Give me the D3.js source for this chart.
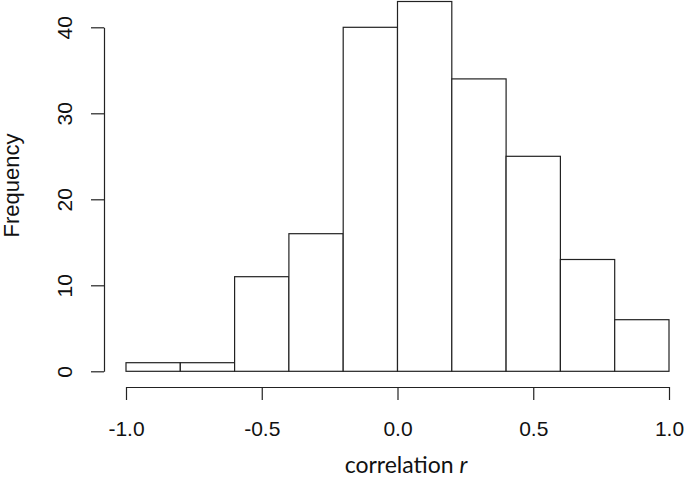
<!DOCTYPE html>
<html>
    <head>
        <meta charset="utf-8">
        <script type="text/javascript" src="https://cdn.jsdelivr.net/npm/d3@7"></script>
        <style>
        body {
            margin: 0;
            background: white;
        }
        .axis path,
        .axis line {
            fill: none;
            stroke: #222;
            stroke-width: 1.2px;
        }
        .axis text {
            font-family: "Liberation Sans", Arial, sans-serif;
            font-size: 21px;
            fill: #111;
        }
        .bar {
            fill: white;
            stroke: #222;
            stroke-width: 1.2px;
        }
        </style>
    </head>
    <body>
        <script type="text/javascript">
        // histogram bins (left edges) and counts
        var binStarts = [-1.0, -0.8, -0.6, -0.4, -0.2, 0.0, 0.2, 0.4, 0.6, 0.8];
        var binWidth = 0.2;
        var counts = [1, 1, 11, 16, 40, 43, 34, 25, 13, 6];
        var xTicks = [-1.0, -0.5, 0.0, 0.5, 1.0];
        var yTicks = [0, 10, 20, 30, 40];

        var w = 685,
            h = 479;

        var xScale = d3.scaleLinear()
                        .domain([-1, 1])
                        .range([126, 669]);

        var yScale = d3.scaleLinear()
                        .domain([0, 40])
                        .range([371.3, 27.3]);

        var svg = d3.select("body")
                    .append("svg")
                    .attr("width", w)
                    .attr("height", h);

        // draw the bars
        svg.selectAll(".bar")
            .data(counts)
          .enter().append("rect")
            .attr("class", "bar")
            .attr("x", function(d, i) { return xScale(binStarts[i]); })
            .attr("y", function(d) { return yScale(d); })
            .attr("width", function(d, i) {
                return xScale(binStarts[i] + binWidth) - xScale(binStarts[i]);
            })
            .attr("height", function(d) { return yScale(0) - yScale(d); });

        // base R prints a plain hyphen, not the unicode minus
        var fmt = d3.format(".1f");

        // x axis, offset below the bars like base R
        var xAxis = d3.axisBottom(xScale)
                        .tickValues(xTicks)
                        .tickSize(13)
                        .tickSizeOuter(0)
                        .tickFormat(function(d) { return fmt(d).replace("\u2212", "-"); });

        svg.append("g")
            .attr("class", "x axis")
            .attr("transform", "translate(0,387)")
            .call(xAxis)
          .selectAll("text")
            .attr("y", 49)
            .attr("dy", 0);

        // y axis with rotated labels
        var yAxis = d3.axisLeft(yScale)
                        .tickValues(yTicks)
                        .tickSize(13)
                        .tickSizeOuter(0);

        svg.append("g")
            .attr("class", "y axis")
            .attr("transform", "translate(104,0)")
            .call(yAxis)
          .selectAll("text")
            .attr("x", 0)
            .attr("dy", 0)
            .style("text-anchor", "middle")
            .attr("transform", "translate(-32,0) rotate(-90)");

        // axis titles
        svg.append("text")
            .attr("transform", "translate(19,185.5) rotate(-90)")
            .attr("text-anchor", "middle")
            .style("font-family", "'Liberation Sans', Arial, sans-serif")
            .style("font-size", "22px")
            .style("fill", "#111")
            .text("Frequency");

        var xlab = svg.append("text")
            .attr("x", 406)
            .attr("y", 473)
            .attr("text-anchor", "middle")
            .style("font-family", "Lato, sans-serif")
            .style("font-size", "23px")
            .style("fill", "#111");
        xlab.append("tspan").text("correlation ");
        xlab.append("tspan").style("font-style", "italic").text("r");
        </script>
    </body>
</html>
